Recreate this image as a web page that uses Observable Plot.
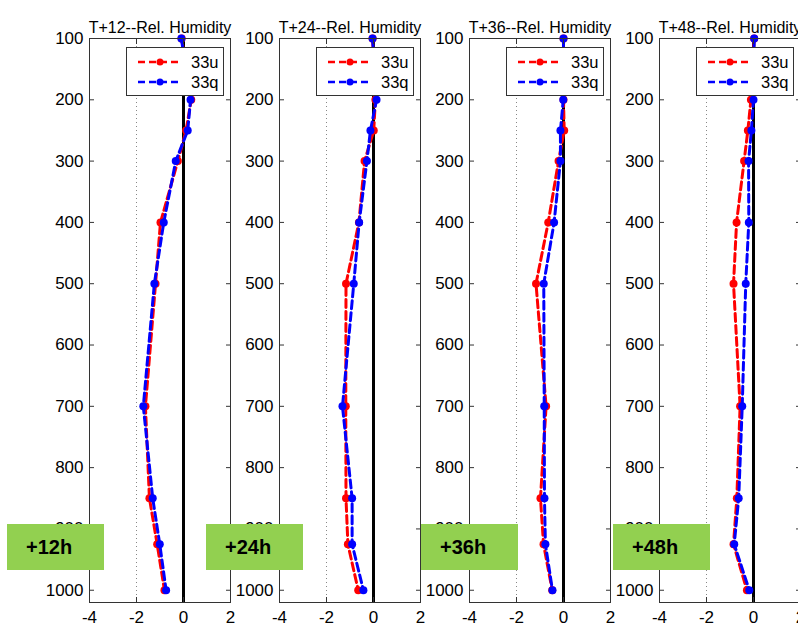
<!DOCTYPE html>
<html>
<head>
<meta charset="utf-8">
<script src="https://cdn.jsdelivr.net/npm/d3@7"></script>
<script src="https://cdn.jsdelivr.net/npm/@observablehq/plot@0.6"></script>
<style>
  body { margin: 0; background: #fff; font-family: Arial, "Liberation Sans", sans-serif; }
  #wrap { position: relative; width: 798px; height: 628px; overflow: hidden; background: #fff; }
  .panel { position: absolute; top: 0; width: 240px; height: 628px; }
  .panel svg { max-width: none !important; }
  .legend { position: absolute; top: 47px; width: 98px; height: 49px; box-sizing: border-box;
            border: 1px solid #333; background: #fff; }
  .legend .row { position: absolute; left: 0; height: 20px; width: 100%; }
  .legend .row svg { position: absolute; left: 10px; top: 0; }
  .legend .row span { position: absolute; left: 64px; top: 0; line-height: 20px; font-size: 16.5px; color: #000; }
  .tag { position: absolute; top: 524px; width: 97px; height: 46px; background: #92d050;
         font-weight: bold; font-size: 20px; line-height: 46px; box-sizing: border-box; padding-left: 19px; color: #000; }
</style>
</head>
<body>
<div id="wrap"></div>
<script>
// ---- data ----
const levels = [100, 200, 250, 300, 400, 500, 700, 850, 925, 1000];
const titles = ["T+12--Rel. Humidity", "T+24--Rel. Humidity", "T+36--Rel. Humidity", "T+48--Rel. Humidity"];
const tags = ["+12h", "+24h", "+36h", "+48h"];
const seriesNames = ["33u", "33q"];
const seriesColors = ["#ff0000", "#0000ff"];

const u12 = [-0.08, 0.33, 0.11, -0.24, -0.98, -1.19, -1.62, -1.45, -1.12, -0.81];
const q12 = [-0.09, 0.30, 0.18, -0.33, -0.84, -1.24, -1.71, -1.31, -1.01, -0.74];
const u24 = [-0.04, 0.08, 0.01, -0.38, -0.62, -1.17, -1.18, -1.17, -1.09, -0.65];
const q24 = [-0.04, 0.13, -0.13, -0.28, -0.61, -0.84, -1.32, -0.91, -0.91, -0.43];
const u36 = [0.00, 0.00, 0.03, -0.21, -0.65, -1.17, -0.74, -0.98, -0.85, -0.48];
const q36 = [0.00, -0.01, -0.13, -0.13, -0.40, -0.84, -0.82, -0.81, -0.77, -0.47];
const u48 = [0.03, -0.11, -0.24, -0.40, -0.72, -0.85, -0.57, -0.71, -0.85, -0.28];
const q48 = [0.03, 0.00, -0.09, -0.21, -0.20, -0.33, -0.48, -0.63, -0.82, -0.18];

const xTicks = [-4, -2, 0, 2];
const yTicks = [100, 200, 300, 400, 500, 600, 700, 800, 900, 1000];

const panelSeries = [[u12, q12], [u24, q24], [u36, q36], [u48, q48]];

// ---- layout ----
const panelLeft = [0, 190, 380, 570];
const tagLeft = [7, 206, 421, 613];
const FONT = "Arial, 'Liberation Sans', sans-serif";

const wrap = document.getElementById("wrap");

panelSeries.forEach((pair, i) => {
  const rows = pair.map(vals => levels.map((p, k) => ({p, v: vals[k]})));
  const seriesMarks = [];
  pair.forEach((vals, s) => {
    seriesMarks.push(Plot.line(rows[s], {x: "v", y: "p", stroke: seriesColors[s], strokeWidth: 3, strokeDasharray: "8,4"}));
    seriesMarks.push(Plot.dot(rows[s], {x: "v", y: "p", fill: seriesColors[s], r: 4, stroke: "none"}));
  });
  const chart = Plot.plot({
    width: 240, height: 628,
    marginLeft: 89, marginRight: 10, marginTop: 38, marginBottom: 26,
    style: {background: "transparent", fontFamily: FONT, fontSize: "16px", color: "#000", overflow: "visible", maxWidth: "none"},
    x: {domain: [-4, 2], label: null},
    y: {domain: [100, 1020], reverse: true, label: null},
    marks: [
      Plot.ruleX([-2], {stroke: "#888", strokeDasharray: "1,3"}),
      Plot.ruleX([0], {stroke: "#000", strokeWidth: 3}),
      ...seriesMarks,
      Plot.axisY(yTicks, {anchor: "left", tickSize: 0, tickPadding: 6, tickFormat: d => String(d), fontSize: 17, label: null}),
      Plot.axisY(yTicks, {anchor: "left", tickSize: -5, fill: "none", stroke: "#333", label: null}),
      Plot.axisY(yTicks, {anchor: "right", tickSize: -5, fill: "none", stroke: "#333", label: null}),
      Plot.axisX(xTicks, {anchor: "bottom", tickSize: 0, tickPadding: 8, tickFormat: d => String(d), fontSize: 17, label: null}),
      Plot.axisX(xTicks, {anchor: "bottom", tickSize: -5, fill: "none", stroke: "#333", label: null}),
      Plot.axisX(xTicks, {anchor: "top", tickSize: -5, fill: "none", stroke: "#333", label: null}),
      Plot.frame({stroke: "#333"}),
      Plot.text([titles[i]], {frameAnchor: "top", dy: -17, fontSize: 16, fill: "#000"})
    ]
  });
  const holder = document.createElement("div");
  holder.className = "panel";
  holder.style.left = panelLeft[i] + "px";
  holder.appendChild(chart);
  wrap.appendChild(holder);
});

// legends (on top of plots)
panelSeries.forEach((pair, i) => {
  const lg = document.createElement("div");
  lg.className = "legend";
  lg.style.left = (panelLeft[i] + 126) + "px";
  seriesNames.forEach((name, s) => {
    const row = document.createElement("div");
    row.className = "row";
    row.style.top = (4 + s * 20) + "px";
    row.innerHTML =
      `<svg width="46" height="20"><line x1="1" x2="43" y1="10" y2="10" stroke="${seriesColors[s]}" stroke-width="2.5" stroke-dasharray="7,4"/>` +
      `<circle cx="23" cy="10" r="3.5" fill="${seriesColors[s]}"/></svg><span>${name}</span>`;
    lg.appendChild(row);
  });
  wrap.appendChild(lg);
});

// green tags
tags.forEach((t, i) => {
  const d = document.createElement("div");
  d.className = "tag";
  d.style.left = tagLeft[i] + "px";
  d.textContent = t;
  wrap.appendChild(d);
});
</script>
</body>
</html>
